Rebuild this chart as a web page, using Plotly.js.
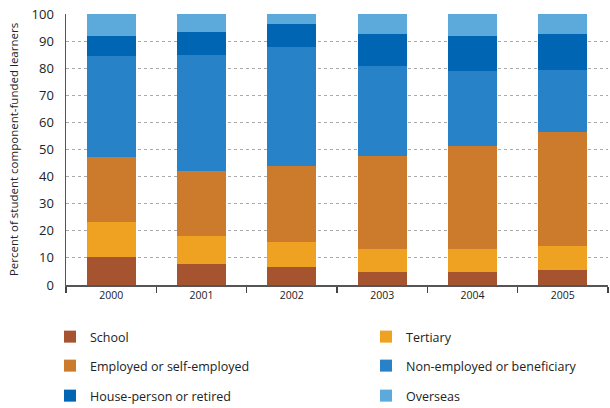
<!DOCTYPE html>
<html><head><meta charset="utf-8">
<script src="https://cdn.plot.ly/plotly-3.0.1.min.js"></script>
<style>html,body{margin:0;padding:0;background:#fff;}#chart{width:610px;height:408px;}</style>
</head><body><div id="chart"></div>
<script>
const years = ['2000','2001','2002','2003','2004','2005'];
const school = [10.3, 7.7, 6.6, 4.8, 4.8, 5.5];
const tertiary = [12.9, 10.4, 9.3, 8.5, 8.5, 8.9];
const employed = [24.0, 24.0, 28.1, 34.3, 38.0, 42.1];
const nonEmployed = [37.3, 42.8, 43.8, 33.2, 27.7, 22.8];
const housePerson = [7.4, 8.5, 8.5, 11.8, 12.9, 13.3];
const overseas = [8.1, 6.6, 3.7, 7.4, 8.1, 7.4];
const seriesNames = ['School','Tertiary','Employed or self-employed','Non-employed or beneficiary','House-person or retired','Overseas'];
const seriesValues = [school, tertiary, employed, nonEmployed, housePerson, overseas];
const colors = ['#A6532F','#EFA222','#CC7B2D','#2882C8','#0066B3','#5CA9DC'];

const FONT = 'Open Sans, Noto Sans, sans-serif';
const legendKeys = ['legend','legend2','legend3','legend4','legend5','legend6'];
const traces = seriesNames.map((n,i)=>({
  type:'bar', name:n, x:years, y:seriesValues[i],
  marker:{color:colors[i], line:{width:0}},
  legend: legendKeys[i], hoverinfo:'skip'
}));

function leg(xPx, yPx){
  return {orientation:'h', xref:'container', yref:'container', x:xPx/610, y:1-(yPx)/408,
    xanchor:'left', yanchor:'middle',
    font:{family:FONT, size:12.5, color:'#222'}, itemwidth:30,
    bgcolor:'rgba(0,0,0,0)', borderwidth:0};
}

const layout = {
  width:610, height:408,
  margin:{l:66, r:2, t:14, b:123},
  barmode:'stack', bargap:0.455,
  paper_bgcolor:'#fff', plot_bgcolor:'#fff',
  font:{family:FONT, color:'#222'},
  showlegend:true,
  xaxis:{type:'category', tickson:'boundaries', ticks:'outside', ticklen:6, tickcolor:'#444', tickwidth:1.2,
    showline:true, linecolor:'#555', linewidth:1.5, showgrid:false, tickangle:0,
    tickfont:{family:FONT, size:10.5, color:'#222'}},
  yaxis:{range:[0,100], dtick:10, tick0:0, showline:true, linecolor:'#555', linewidth:1.5,
    showgrid:true, gridcolor:'#aaaaaa', griddash:'dot', gridwidth:1, zeroline:false,
    ticks:'', ticklabelstandoff:8,
    tickfont:{family:FONT, size:13, color:'#222'},
    title:{text:'Percent of student component-funded learners', font:{family:FONT, size:11.5, color:'#222'}, standoff:10}}
};
const colX = [50, 366];
const rowY = [337, 366, 396];
legendKeys.forEach((k,i)=>{ layout[k] = leg(colX[i%2], rowY[Math.floor(i/2)]); });
Plotly.newPlot('chart', traces, layout, {displayModeBar:false, staticPlot:true});
</script></body></html>
